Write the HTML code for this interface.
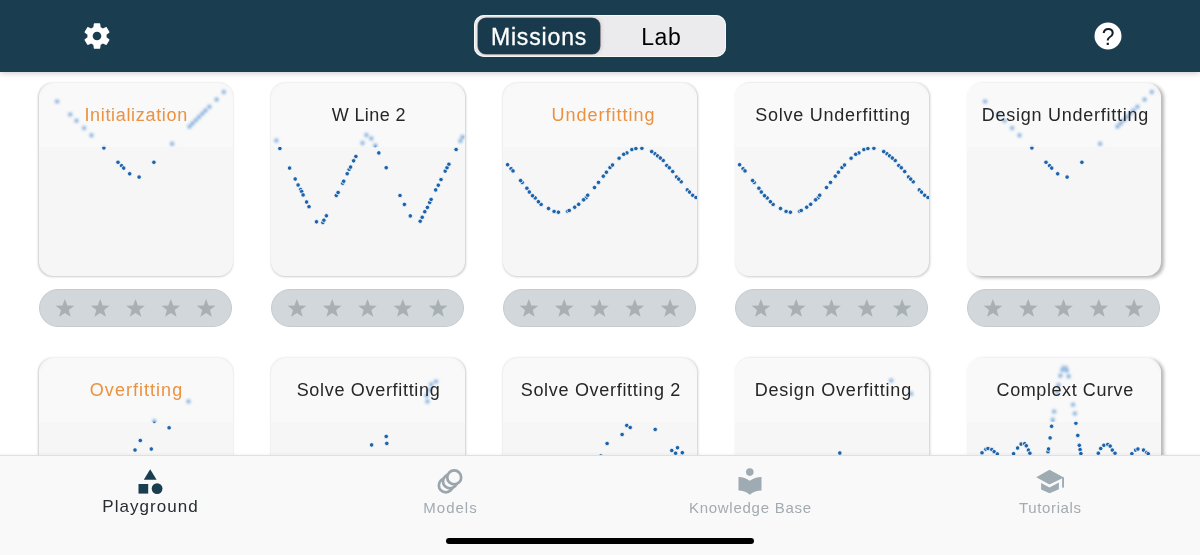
<!DOCTYPE html>
<html><head><meta charset="utf-8">
<style>
*{margin:0;padding:0;box-sizing:border-box}
html,body{width:1200px;height:555px;overflow:hidden;background:#fff;font-family:"Liberation Sans",sans-serif}
#hdr{position:absolute;left:0;top:0;width:1200px;height:72px;background:#1a3d4f;z-index:5;box-shadow:0 1px 6px rgba(0,0,0,.22)}
#seg{position:absolute;left:474px;top:15.3px;width:252px;height:41.6px;border-radius:10px;background:#ebebed;box-shadow:inset 0 0 0 1px rgba(255,255,255,.7)}
#seg .on{position:absolute;left:3.6px;top:2.9px;width:122.7px;height:35.4px;border-radius:8px;background:#183a4c;box-shadow:0 0 0 0.6px rgba(0,0,0,.55),1px 0 4px rgba(0,0,0,.15)}
#seg .t{position:absolute;top:1px;height:42px;line-height:42px;font-size:23px;white-space:nowrap;text-align:center}
.card{position:absolute;width:194px;height:193.6px;border-radius:14.5px;background:#f6f6f6;overflow:hidden;box-shadow:0 0.6px 1.6px rgba(0,0,0,.3)}
.card svg{position:absolute;left:0;top:0}
.card .hd{position:absolute;left:0;top:0;width:100%;height:63.8px;background:rgba(255,255,255,.32);-webkit-backdrop-filter:blur(1.5px) saturate(1.2);backdrop-filter:blur(1.5px) saturate(1.2)}
.card .tt{position:absolute;left:0;top:0.4px;width:100%;height:64.3px;text-align:center;font-size:18px;line-height:64px;color:#262626;white-space:nowrap}
.card .tt.o{color:#ea9240}
.stars{position:absolute;width:193px;height:38.2px;border-radius:19.1px;background:#d1d7db;border:1px solid #c6cbcf}
#tab{position:absolute;left:0;top:454.5px;width:1200px;height:101px;background:#f9f9f9;border-top:0.5px solid #e9e9e9;z-index:4}
#tab:before{content:"";position:absolute;left:0;top:-4px;width:100%;height:4px;background:linear-gradient(rgba(0,0,0,0),rgba(0,0,0,.045))}
.ti{position:absolute;top:0;text-align:center;white-space:nowrap}
#home{position:absolute;z-index:6;left:446px;top:538px;width:308px;height:6px;border-radius:3px;background:#000}
</style></head><body>
<div id="hdr">
  <svg style="position:absolute;left:81.2px;top:19.9px" width="32" height="32" viewBox="0 0 24 24"><path fill="#fff" d="M19.14,12.94c0.04-0.3,0.06-0.61,0.06-0.94c0-0.32-0.02-0.64-0.07-0.94l2.03-1.58c0.18-0.14,0.23-0.41,0.12-0.61 l-1.92-3.32c-0.12-0.22-0.37-0.29-0.59-0.22l-2.39,0.96c-0.5-0.38-1.03-0.7-1.62-0.94L14.4,2.81c-0.04-0.24-0.24-0.41-0.48-0.41 h-3.84c-0.24,0-0.43,0.17-0.47,0.41L9.25,5.35C8.66,5.59,8.12,5.920,7.63,6.29L5.24,5.33c-0.22-0.08-0.47,0-0.59,0.22L2.74,8.87 C2.62,9.08,2.66,9.34,2.86,9.48l2.03,1.58C4.84,11.36,4.8,11.69,4.8,12s0.02,0.64,0.07,0.94l-2.03,1.58 c-0.18,0.14-0.23,0.41-0.12,0.61l1.92,3.32c0.12,0.22,0.37,0.29,0.59,0.22l2.39-0.96c0.5,0.38,1.03,0.7,1.62,0.94l0.36,2.54 c0.05,0.24,0.24,0.41,0.48,0.41h3.840c0.24,0,0.44-0.17,0.47-0.41l0.36-2.54c0.59-0.24,1.13-0.56,1.62-0.94l2.39,0.96 c0.22,0.08,0.47,0,0.59-0.22l1.920-3.32c0.12-0.22,0.07-0.47-0.12-0.61L19.14,12.94z M12,15.25c-1.79,0-3.25-1.46-3.25-3.25s1.46-3.25,3.25-3.25s3.25,1.46,3.25,3.25S13.79,15.25,12,15.25z"/></svg>
  <div id="seg"><div class="on"></div>
    <div class="t" style="left:3.6px;width:122px;color:#fff;letter-spacing:0.85px;text-indent:0.85px;-webkit-text-stroke:0.3px #fff">Missions</div>
    <div class="t" style="left:125.5px;width:123px;color:#000;letter-spacing:0.5px;text-indent:0.5px">Lab</div>
  </div>
  <svg style="position:absolute;left:1094px;top:22px" width="28" height="28" viewBox="0 0 28 28"><circle cx="14" cy="14" r="13.5" fill="#fff"/><text x="14.1" y="22.7" text-anchor="middle" font-family="Liberation Sans" font-size="23" fill="#0f1c24">?</text></svg>
</div>
<div class="card" style="box-shadow:-0.3px 0.9px 2.2px rgba(0,0,0,.2);left:38.5px;top:82.8px"><svg width="194" height="195" fill="#1c63ab" stroke="#fff" stroke-width="0.8"><circle cx="18.1" cy="18.4" r="2.25"/><circle cx="31.2" cy="31.4" r="2.25"/><circle cx="37.5" cy="37.7" r="2.25"/><circle cx="45.1" cy="45.1" r="2.25"/><circle cx="52.5" cy="52.3" r="2.25"/><circle cx="64.9" cy="64.9" r="2.25"/><circle cx="79.0" cy="79.3" r="2.25"/><circle cx="82.6" cy="82.7" r="2.25"/><circle cx="84.7" cy="85.1" r="2.25"/><circle cx="90.7" cy="90.8" r="2.25"/><circle cx="100.1" cy="94.1" r="2.25"/><circle cx="114.9" cy="79.3" r="2.25"/><circle cx="133.1" cy="60.8" r="2.25"/><circle cx="150.5" cy="43.6" r="2.25"/><circle cx="153.5" cy="40.4" r="2.25"/><circle cx="156.8" cy="37.2" r="2.25"/><circle cx="160.0" cy="34.0" r="2.25"/><circle cx="163.3" cy="30.7" r="2.25"/><circle cx="166.5" cy="27.5" r="2.25"/><circle cx="170.4" cy="23.8" r="2.25"/><circle cx="177.6" cy="16.6" r="2.25"/><circle cx="184.8" cy="9.0" r="2.25"/></svg><div class="hd"></div><div class="tt o" style="letter-spacing:0.67px;text-indent:0.67px;left:0.30px">Initialization</div></div>
<div class="stars" style="left:39.0px;top:288.7px"><svg width="194" height="39" fill="#a9b0b5" style="position:absolute;left:-1px;top:-1px"><polygon points="25.90,10.05 28.31,16.53 35.22,16.82 29.80,21.12 31.66,27.78 25.90,23.95 20.14,27.78 22.00,21.12 16.58,16.82 23.49,16.53"/><polygon points="61.20,10.05 63.61,16.53 70.52,16.82 65.10,21.12 66.96,27.78 61.20,23.95 55.44,27.78 57.30,21.12 51.88,16.82 58.79,16.53"/><polygon points="96.50,10.05 98.91,16.53 105.82,16.82 100.40,21.12 102.26,27.78 96.50,23.95 90.74,27.78 92.60,21.12 87.18,16.82 94.09,16.53"/><polygon points="131.80,10.05 134.21,16.53 141.12,16.82 135.70,21.12 137.56,27.78 131.80,23.95 126.04,27.78 127.90,21.12 122.48,16.82 129.39,16.53"/><polygon points="167.10,10.05 169.51,16.53 176.42,16.82 171.00,21.12 172.86,27.78 167.10,23.95 161.34,27.78 163.20,21.12 157.78,16.82 164.69,16.53"/></svg></div>
<div class="card" style="box-shadow:0.2px 0.9px 2.2px rgba(0,0,0,.2);left:270.6px;top:82.8px"><svg width="194" height="195" fill="#1c63ab" stroke="#fff" stroke-width="0.8"><circle cx="5.3" cy="57.6" r="2.25"/><circle cx="8.9" cy="65.5" r="2.25"/><circle cx="18.6" cy="85.1" r="2.25"/><circle cx="24.2" cy="96.0" r="2.25"/><circle cx="27.1" cy="102.0" r="2.25"/><circle cx="29.7" cy="106.5" r="2.25"/><circle cx="30.7" cy="108.5" r="2.25"/><circle cx="32.1" cy="111.9" r="2.25"/><circle cx="35.6" cy="119.0" r="2.25"/><circle cx="38.0" cy="123.7" r="2.25"/><circle cx="45.5" cy="138.8" r="2.25"/><circle cx="51.9" cy="139.6" r="2.25"/><circle cx="52.9" cy="137.2" r="2.25"/><circle cx="55.4" cy="132.8" r="2.25"/><circle cx="65.3" cy="112.4" r="2.25"/><circle cx="67.1" cy="109.5" r="2.25"/><circle cx="71.7" cy="100.2" r="2.25"/><circle cx="72.7" cy="98.2" r="2.25"/><circle cx="76.2" cy="90.7" r="2.25"/><circle cx="78.2" cy="86.3" r="2.25"/><circle cx="79.6" cy="84.1" r="2.25"/><circle cx="82.6" cy="77.8" r="2.25"/><circle cx="84.9" cy="73.4" r="2.25"/><circle cx="91.5" cy="60.0" r="2.25"/><circle cx="95.4" cy="52.1" r="2.25"/><circle cx="100.3" cy="55.4" r="2.25"/><circle cx="104.3" cy="62.6" r="2.25"/><circle cx="107.8" cy="69.9" r="2.25"/><circle cx="115.2" cy="84.7" r="2.25"/><circle cx="129.0" cy="112.5" r="2.25"/><circle cx="133.4" cy="121.4" r="2.25"/><circle cx="139.3" cy="132.9" r="2.25"/><circle cx="149.2" cy="138.2" r="2.25"/><circle cx="151.2" cy="134.3" r="2.25"/><circle cx="153.8" cy="128.7" r="2.25"/><circle cx="156.4" cy="124.4" r="2.25"/><circle cx="158.7" cy="119.4" r="2.25"/><circle cx="160.1" cy="116.4" r="2.25"/><circle cx="164.7" cy="106.9" r="2.25"/><circle cx="167.3" cy="102.2" r="2.25"/><circle cx="170.0" cy="96.6" r="2.25"/><circle cx="174.2" cy="88.1" r="2.25"/><circle cx="176.0" cy="84.7" r="2.25"/><circle cx="177.9" cy="81.2" r="2.25"/><circle cx="185.1" cy="66.5" r="2.25"/><circle cx="189.4" cy="58.0" r="2.25"/><circle cx="191.4" cy="54.0" r="2.25"/></svg><div class="hd"></div><div class="tt" style="letter-spacing:0.41px;text-indent:0.41px;left:1.00px">W Line 2</div></div>
<div class="stars" style="left:271.1px;top:288.7px"><svg width="194" height="39" fill="#a9b0b5" style="position:absolute;left:-1px;top:-1px"><polygon points="25.90,10.05 28.31,16.53 35.22,16.82 29.80,21.12 31.66,27.78 25.90,23.95 20.14,27.78 22.00,21.12 16.58,16.82 23.49,16.53"/><polygon points="61.20,10.05 63.61,16.53 70.52,16.82 65.10,21.12 66.96,27.78 61.20,23.95 55.44,27.78 57.30,21.12 51.88,16.82 58.79,16.53"/><polygon points="96.50,10.05 98.91,16.53 105.82,16.82 100.40,21.12 102.26,27.78 96.50,23.95 90.74,27.78 92.60,21.12 87.18,16.82 94.09,16.53"/><polygon points="131.80,10.05 134.21,16.53 141.12,16.82 135.70,21.12 137.56,27.78 131.80,23.95 126.04,27.78 127.90,21.12 122.48,16.82 129.39,16.53"/><polygon points="167.10,10.05 169.51,16.53 176.42,16.82 171.00,21.12 172.86,27.78 167.10,23.95 161.34,27.78 163.20,21.12 157.78,16.82 164.69,16.53"/></svg></div>
<div class="card" style="box-shadow:0.6px 0.9px 2.4px rgba(0,0,0,.2);left:502.7px;top:82.8px"><svg width="194" height="195" fill="#1c63ab" stroke="#fff" stroke-width="0.8"><circle cx="8.1" cy="85.7" r="2.25"/><circle cx="19.2" cy="99.4" r="2.25"/><circle cx="32.2" cy="114.9" r="2.25"/><circle cx="38.1" cy="121.4" r="2.25"/><circle cx="107.0" cy="84.6" r="2.25"/><circle cx="123.9" cy="69.9" r="2.25"/><circle cx="64.5" cy="128.2" r="2.25"/><circle cx="83.1" cy="114.8" r="2.25"/><circle cx="151.9" cy="70.7" r="2.25"/><circle cx="160.2" cy="77.5" r="2.25"/><circle cx="163.8" cy="82.6" r="2.25"/><circle cx="178.2" cy="98.8" r="2.25"/><circle cx="184.3" cy="106.9" r="2.25"/><circle cx="189.7" cy="112.3" r="2.25"/><circle cx="4.6" cy="81.7" r="2.25"/><circle cx="10.0" cy="87.9" r="2.25"/><circle cx="17.6" cy="97.6" r="2.25"/><circle cx="23.9" cy="105.2" r="2.25"/><circle cx="26.3" cy="109.0" r="2.25"/><circle cx="29.5" cy="112.7" r="2.25"/><circle cx="35.4" cy="118.7" r="2.25"/><circle cx="45.5" cy="125.5" r="2.25"/><circle cx="51.1" cy="128.4" r="2.25"/><circle cx="55.4" cy="129.2" r="2.25"/><circle cx="66.2" cy="127.5" r="2.25"/><circle cx="71.7" cy="124.2" r="2.25"/><circle cx="75.7" cy="121.3" r="2.25"/><circle cx="80.1" cy="117.0" r="2.25"/><circle cx="84.7" cy="112.2" r="2.25"/><circle cx="91.5" cy="104.5" r="2.25"/><circle cx="95.5" cy="99.4" r="2.25"/><circle cx="100.3" cy="93.2" r="2.25"/><circle cx="103.4" cy="89.2" r="2.25"/><circle cx="109.5" cy="82.0" r="2.25"/><circle cx="116.1" cy="75.2" r="2.25"/><circle cx="120.7" cy="71.3" r="2.25"/><circle cx="128.9" cy="66.6" r="2.25"/><circle cx="132.9" cy="65.6" r="2.25"/><circle cx="138.9" cy="65.3" r="2.25"/><circle cx="148.7" cy="68.6" r="2.25"/><circle cx="154.6" cy="72.9" r="2.25"/><circle cx="157.3" cy="75.0" r="2.25"/><circle cx="166.3" cy="84.8" r="2.25"/><circle cx="169.7" cy="88.6" r="2.25"/><circle cx="173.5" cy="94.0" r="2.25"/><circle cx="175.7" cy="96.1" r="2.25"/><circle cx="186.5" cy="109.1" r="2.25"/><circle cx="193.0" cy="114.5" r="2.25"/><circle cx="80.7" cy="116.8" r="2.25"/></svg><div class="hd"></div><div class="tt o" style="letter-spacing:1.00px;text-indent:1.00px;left:3.40px">Underfitting</div></div>
<div class="stars" style="left:503.2px;top:288.7px"><svg width="194" height="39" fill="#a9b0b5" style="position:absolute;left:-1px;top:-1px"><polygon points="25.90,10.05 28.31,16.53 35.22,16.82 29.80,21.12 31.66,27.78 25.90,23.95 20.14,27.78 22.00,21.12 16.58,16.82 23.49,16.53"/><polygon points="61.20,10.05 63.61,16.53 70.52,16.82 65.10,21.12 66.96,27.78 61.20,23.95 55.44,27.78 57.30,21.12 51.88,16.82 58.79,16.53"/><polygon points="96.50,10.05 98.91,16.53 105.82,16.82 100.40,21.12 102.26,27.78 96.50,23.95 90.74,27.78 92.60,21.12 87.18,16.82 94.09,16.53"/><polygon points="131.80,10.05 134.21,16.53 141.12,16.82 135.70,21.12 137.56,27.78 131.80,23.95 126.04,27.78 127.90,21.12 122.48,16.82 129.39,16.53"/><polygon points="167.10,10.05 169.51,16.53 176.42,16.82 171.00,21.12 172.86,27.78 167.10,23.95 161.34,27.78 163.20,21.12 157.78,16.82 164.69,16.53"/></svg></div>
<div class="card" style="box-shadow:1px 0.9px 2.6px rgba(0,0,0,.21);left:734.8px;top:82.8px"><svg width="194" height="195" fill="#1c63ab" stroke="#fff" stroke-width="0.8"><circle cx="8.1" cy="85.7" r="2.25"/><circle cx="19.2" cy="99.4" r="2.25"/><circle cx="32.2" cy="114.9" r="2.25"/><circle cx="38.1" cy="121.4" r="2.25"/><circle cx="107.0" cy="84.6" r="2.25"/><circle cx="123.9" cy="69.9" r="2.25"/><circle cx="64.5" cy="128.2" r="2.25"/><circle cx="83.1" cy="114.8" r="2.25"/><circle cx="151.9" cy="70.7" r="2.25"/><circle cx="160.2" cy="77.5" r="2.25"/><circle cx="163.8" cy="82.6" r="2.25"/><circle cx="178.2" cy="98.8" r="2.25"/><circle cx="184.3" cy="106.9" r="2.25"/><circle cx="189.7" cy="112.3" r="2.25"/><circle cx="4.6" cy="81.7" r="2.25"/><circle cx="10.0" cy="87.9" r="2.25"/><circle cx="17.6" cy="97.6" r="2.25"/><circle cx="23.9" cy="105.2" r="2.25"/><circle cx="26.3" cy="109.0" r="2.25"/><circle cx="29.5" cy="112.7" r="2.25"/><circle cx="35.4" cy="118.7" r="2.25"/><circle cx="45.5" cy="125.5" r="2.25"/><circle cx="51.1" cy="128.4" r="2.25"/><circle cx="55.4" cy="129.2" r="2.25"/><circle cx="66.2" cy="127.5" r="2.25"/><circle cx="71.7" cy="124.2" r="2.25"/><circle cx="75.7" cy="121.3" r="2.25"/><circle cx="80.1" cy="117.0" r="2.25"/><circle cx="84.7" cy="112.2" r="2.25"/><circle cx="91.5" cy="104.5" r="2.25"/><circle cx="95.5" cy="99.4" r="2.25"/><circle cx="100.3" cy="93.2" r="2.25"/><circle cx="103.4" cy="89.2" r="2.25"/><circle cx="109.5" cy="82.0" r="2.25"/><circle cx="116.1" cy="75.2" r="2.25"/><circle cx="120.7" cy="71.3" r="2.25"/><circle cx="128.9" cy="66.6" r="2.25"/><circle cx="132.9" cy="65.6" r="2.25"/><circle cx="138.9" cy="65.3" r="2.25"/><circle cx="148.7" cy="68.6" r="2.25"/><circle cx="154.6" cy="72.9" r="2.25"/><circle cx="157.3" cy="75.0" r="2.25"/><circle cx="166.3" cy="84.8" r="2.25"/><circle cx="169.7" cy="88.6" r="2.25"/><circle cx="173.5" cy="94.0" r="2.25"/><circle cx="175.7" cy="96.1" r="2.25"/><circle cx="186.5" cy="109.1" r="2.25"/><circle cx="193.0" cy="114.5" r="2.25"/><circle cx="80.7" cy="116.8" r="2.25"/></svg><div class="hd"></div><div class="tt" style="letter-spacing:0.75px;text-indent:0.75px;left:0.90px">Solve Underfitting</div></div>
<div class="stars" style="left:735.3px;top:288.7px"><svg width="194" height="39" fill="#a9b0b5" style="position:absolute;left:-1px;top:-1px"><polygon points="25.90,10.05 28.31,16.53 35.22,16.82 29.80,21.12 31.66,27.78 25.90,23.95 20.14,27.78 22.00,21.12 16.58,16.82 23.49,16.53"/><polygon points="61.20,10.05 63.61,16.53 70.52,16.82 65.10,21.12 66.96,27.78 61.20,23.95 55.44,27.78 57.30,21.12 51.88,16.82 58.79,16.53"/><polygon points="96.50,10.05 98.91,16.53 105.82,16.82 100.40,21.12 102.26,27.78 96.50,23.95 90.74,27.78 92.60,21.12 87.18,16.82 94.09,16.53"/><polygon points="131.80,10.05 134.21,16.53 141.12,16.82 135.70,21.12 137.56,27.78 131.80,23.95 126.04,27.78 127.90,21.12 122.48,16.82 129.39,16.53"/><polygon points="167.10,10.05 169.51,16.53 176.42,16.82 171.00,21.12 172.86,27.78 167.10,23.95 161.34,27.78 163.20,21.12 157.78,16.82 164.69,16.53"/></svg></div>
<div class="card" style="box-shadow:2.6px 1.1px 3.5px rgba(0,0,0,.28);left:966.9px;top:82.8px"><svg width="194" height="195" fill="#1c63ab" stroke="#fff" stroke-width="0.8"><circle cx="18.1" cy="18.4" r="2.25"/><circle cx="31.2" cy="31.4" r="2.25"/><circle cx="37.5" cy="37.7" r="2.25"/><circle cx="45.1" cy="45.1" r="2.25"/><circle cx="52.5" cy="52.3" r="2.25"/><circle cx="64.9" cy="64.9" r="2.25"/><circle cx="79.0" cy="79.3" r="2.25"/><circle cx="82.6" cy="82.7" r="2.25"/><circle cx="84.7" cy="85.1" r="2.25"/><circle cx="90.7" cy="90.8" r="2.25"/><circle cx="100.1" cy="94.1" r="2.25"/><circle cx="114.9" cy="79.3" r="2.25"/><circle cx="133.1" cy="60.8" r="2.25"/><circle cx="150.5" cy="43.6" r="2.25"/><circle cx="153.5" cy="40.4" r="2.25"/><circle cx="156.8" cy="37.2" r="2.25"/><circle cx="160.0" cy="34.0" r="2.25"/><circle cx="163.3" cy="30.7" r="2.25"/><circle cx="166.5" cy="27.5" r="2.25"/><circle cx="170.4" cy="23.8" r="2.25"/><circle cx="177.6" cy="16.6" r="2.25"/><circle cx="184.8" cy="9.0" r="2.25"/></svg><div class="hd"></div><div class="tt" style="letter-spacing:0.75px;text-indent:0.75px;left:1.20px">Design Underfitting</div></div>
<div class="stars" style="left:967.4px;top:288.7px"><svg width="194" height="39" fill="#a9b0b5" style="position:absolute;left:-1px;top:-1px"><polygon points="25.90,10.05 28.31,16.53 35.22,16.82 29.80,21.12 31.66,27.78 25.90,23.95 20.14,27.78 22.00,21.12 16.58,16.82 23.49,16.53"/><polygon points="61.20,10.05 63.61,16.53 70.52,16.82 65.10,21.12 66.96,27.78 61.20,23.95 55.44,27.78 57.30,21.12 51.88,16.82 58.79,16.53"/><polygon points="96.50,10.05 98.91,16.53 105.82,16.82 100.40,21.12 102.26,27.78 96.50,23.95 90.74,27.78 92.60,21.12 87.18,16.82 94.09,16.53"/><polygon points="131.80,10.05 134.21,16.53 141.12,16.82 135.70,21.12 137.56,27.78 131.80,23.95 126.04,27.78 127.90,21.12 122.48,16.82 129.39,16.53"/><polygon points="167.10,10.05 169.51,16.53 176.42,16.82 171.00,21.12 172.86,27.78 167.10,23.95 161.34,27.78 163.20,21.12 157.78,16.82 164.69,16.53"/></svg></div>
<div class="card" style="box-shadow:-0.3px 0.9px 2.2px rgba(0,0,0,.2);left:38.5px;top:358.0px"><svg width="194" height="195" fill="#1c63ab" stroke="#fff" stroke-width="0.8"><circle cx="149.5" cy="43.4" r="2.25"/><circle cx="115.3" cy="63.2" r="2.25"/><circle cx="130.1" cy="69.8" r="2.25"/><circle cx="101.3" cy="82.5" r="2.25"/><circle cx="96.0" cy="92.0" r="2.25"/><circle cx="112.3" cy="91.0" r="2.25"/></svg><div class="hd"></div><div class="tt o" style="letter-spacing:1.03px;text-indent:1.03px;left:0.50px">Overfitting</div></div>
<div class="card" style="box-shadow:0.2px 0.9px 2.2px rgba(0,0,0,.2);left:270.6px;top:358.0px"><svg width="194" height="195" fill="#1c63ab" stroke="#fff" stroke-width="0.8"><circle cx="165.0" cy="23.5" r="2.25"/><circle cx="160.2" cy="26.3" r="2.25"/><circle cx="158.3" cy="32.0" r="2.25"/><circle cx="155.5" cy="37.7" r="2.25"/><circle cx="156.4" cy="43.4" r="2.25"/><circle cx="115.2" cy="78.4" r="2.25"/><circle cx="115.8" cy="85.4" r="2.25"/><circle cx="100.6" cy="86.9" r="2.25"/></svg><div class="hd"></div><div class="tt" style="letter-spacing:0.69px;text-indent:0.69px;left:0.65px">Solve Overfitting</div></div>
<div class="card" style="box-shadow:0.6px 0.9px 2.4px rgba(0,0,0,.2);left:502.7px;top:358.0px"><svg width="194" height="195" fill="#1c63ab" stroke="#fff" stroke-width="0.8"><circle cx="123.8" cy="67.4" r="2.25"/><circle cx="127.2" cy="69.5" r="2.25"/><circle cx="119.1" cy="76.5" r="2.25"/><circle cx="152.2" cy="71.4" r="2.25"/><circle cx="104.1" cy="85.5" r="2.25"/><circle cx="168.8" cy="92.5" r="2.25"/><circle cx="174.5" cy="89.7" r="2.25"/><circle cx="172.6" cy="95.2" r="2.25"/><circle cx="179.3" cy="94.7" r="2.25"/><circle cx="97.8" cy="98.0" r="2.25"/></svg><div class="hd"></div><div class="tt" style="letter-spacing:0.70px;text-indent:0.70px;left:0.85px">Solve Overfitting 2</div></div>
<div class="card" style="box-shadow:1px 0.9px 2.6px rgba(0,0,0,.21);left:734.8px;top:358.0px"><svg width="194" height="195" fill="#1c63ab" stroke="#fff" stroke-width="0.8"><circle cx="156.2" cy="22.5" r="2.25"/><circle cx="176.1" cy="35.8" r="2.25"/><circle cx="104.8" cy="95.0" r="2.25"/></svg><div class="hd"></div><div class="tt" style="letter-spacing:0.79px;text-indent:0.79px;left:1.15px">Design Overfitting</div></div>
<div class="card" style="box-shadow:2.6px 1.1px 3.5px rgba(0,0,0,.28);left:966.9px;top:358.0px"><svg width="194" height="195" fill="#1c63ab" stroke="#fff" stroke-width="0.8"><circle cx="96.5" cy="9.5" r="2.25"/><circle cx="99.0" cy="10.1" r="2.25"/><circle cx="95.3" cy="12.0" r="2.25"/><circle cx="99.7" cy="12.6" r="2.25"/><circle cx="93.4" cy="17.7" r="2.25"/><circle cx="101.6" cy="18.3" r="2.25"/><circle cx="91.5" cy="27.1" r="2.25"/><circle cx="90.2" cy="34.0" r="2.25"/><circle cx="106.0" cy="46.7" r="2.25"/><circle cx="87.1" cy="53.6" r="2.25"/><circle cx="107.9" cy="55.5" r="2.25"/><circle cx="85.8" cy="61.8" r="2.25"/><circle cx="84.6" cy="68.3" r="2.25"/><circle cx="83.1" cy="79.9" r="2.25"/><circle cx="81.0" cy="93.7" r="2.25"/><circle cx="81.5" cy="91.0" r="2.25"/><circle cx="108.9" cy="65.2" r="2.25"/><circle cx="110.8" cy="77.4" r="2.25"/><circle cx="112.3" cy="87.3" r="2.25"/><circle cx="113.1" cy="91.6" r="2.25"/><circle cx="113.9" cy="95.6" r="2.25"/><circle cx="15.0" cy="94.8" r="2.25"/><circle cx="18.9" cy="91.3" r="2.25"/><circle cx="21.0" cy="90.5" r="2.25"/><circle cx="24.8" cy="91.6" r="2.25"/><circle cx="27.2" cy="93.7" r="2.25"/><circle cx="30.3" cy="96.0" r="2.25"/><circle cx="46.6" cy="95.7" r="2.25"/><circle cx="50.6" cy="90.0" r="2.25"/><circle cx="54.1" cy="86.1" r="2.25"/><circle cx="57.7" cy="85.7" r="2.25"/><circle cx="59.3" cy="87.8" r="2.25"/><circle cx="61.4" cy="92.1" r="2.25"/><circle cx="62.9" cy="95.2" r="2.25"/><circle cx="131.3" cy="95.2" r="2.25"/><circle cx="133.7" cy="90.5" r="2.25"/><circle cx="136.9" cy="87.3" r="2.25"/><circle cx="140.8" cy="86.5" r="2.25"/><circle cx="143.2" cy="88.1" r="2.25"/><circle cx="145.3" cy="92.1" r="2.25"/><circle cx="148.0" cy="95.2" r="2.25"/><circle cx="164.9" cy="95.7" r="2.25"/><circle cx="168.6" cy="92.1" r="2.25"/><circle cx="170.9" cy="91.0" r="2.25"/><circle cx="176.5" cy="92.1" r="2.25"/><circle cx="179.6" cy="94.5" r="2.25"/><circle cx="181.2" cy="95.7" r="2.25"/></svg><div class="hd"></div><div class="tt" style="letter-spacing:0.58px;text-indent:0.58px;left:1.00px">Complext Curve</div></div>
<div id="tab">
<svg width="1200" height="101" style="position:absolute;left:0;top:-1px" viewBox="0 454 1200 101">
 <g fill="#1a3d4f"><polygon points="150.2,468.2 156.6,478.8 143.8,478.8"/><rect x="138.5" y="483" width="9.7" height="9.6"/><circle cx="157.1" cy="487.6" r="5.4"/></g>
 <g fill="#f9f9f9" stroke="#9ba6ac" stroke-width="2.7"><circle cx="445.8" cy="484.4" r="6.95"/><circle cx="450" cy="480.4" r="6.95"/><circle cx="454.2" cy="476.4" r="6.95"/></g>
 <g fill="#9eabb3"><circle cx="749.8" cy="471.1" r="3.8"/><path d="M738.5,476 Q745,476 749.8,479.8 Q754.6,476 761.5,476 L761.5,489.6 Q755,489.6 749.8,493.8 Q744.6,489.6 738.5,489.6 Z"/></g>
 <g fill="#9eabb3"><path d="M1036.2,476.3 L1049.5,468.8 L1063.8,476.4 L1049.5,483.6 Z"/><rect x="1062.1" y="476.4" width="1.9" height="10.2"/><path d="M1041.1,481.9 L1049.5,486.4 L1058.9,481.6 L1058.9,488.3 L1049.5,492.3 L1041.1,488.6 Z"/></g>
</svg>
<div class="ti" id="t1" style="left:0;width:300px;top:41.6px;font-size:17px;letter-spacing:1.05px;text-indent:1.05px;color:#272d31">Playground</div>
<div class="ti" id="t2" style="left:300px;width:300px;top:43.6px;font-size:15px;letter-spacing:1.0px;text-indent:1.0px;color:#a2abb0">Models</div>
<div class="ti" id="t3" style="left:600px;width:300px;top:43.6px;font-size:15px;letter-spacing:0.74px;text-indent:0.74px;color:#a2abb0">Knowledge Base</div>
<div class="ti" id="t4" style="left:900px;width:300px;top:43.6px;font-size:15px;letter-spacing:0.66px;text-indent:0.66px;color:#a2abb0">Tutorials</div>
</div>
<div id="home"></div>
</body></html>
